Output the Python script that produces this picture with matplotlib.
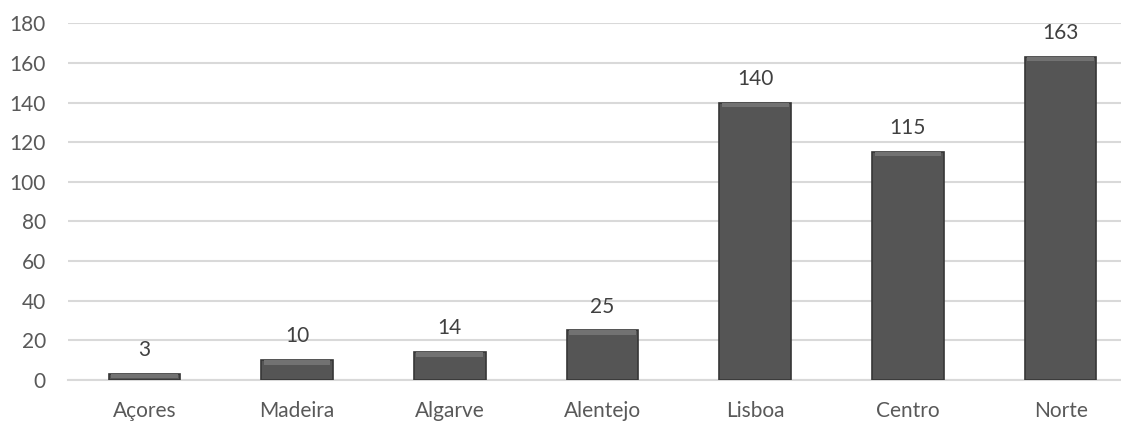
import matplotlib
matplotlib.use("Agg")
import matplotlib.pyplot as plt
import numpy as np

categories = ["Açores", "Madeira", "Algarve", "Alentejo", "Lisboa", "Centro", "Norte"]
values = [3, 10, 14, 25, 140, 115, 163]
yticks = [0, 20, 40, 60, 80, 100, 120, 140, 160, 180]

plt.rcParams['font.family'] = ['Lato', 'DejaVu Sans']

fig = plt.figure(figsize=(11.21, 4.21), dpi=100)
ax = fig.add_axes([0.0607, 0.0974, 0.9535, 0.8473])

x = np.arange(len(categories))
w = 0.47
ax.bar(x, values, width=w, color='#555555', edgecolor='#363636', linewidth=1.2, zorder=3)
# bevel: lighter top band
bevel = 2.2
tops = [max(v - bevel, 0) for v in values]
ax.bar(x, [v - t for v, t in zip(values, tops)], bottom=tops, width=w * 0.93,
       color='#727272', linewidth=0, zorder=4)

for xi, v in zip(x, values):
    ax.annotate(str(v), (xi, v), xytext=(0, 10), textcoords='offset points',
                ha='center', va='bottom', fontsize=15, color='#404040')

ax.set_xlim(-0.5, len(categories) - 0.5)
ax.set_ylim(0, 180)
ax.set_yticks(yticks)
ax.set_xticks(x)
ax.set_xticklabels(categories)
ax.grid(axis='y', color='#d9d9d9', linewidth=1.5, zorder=0)
ax.set_axisbelow(True)
for s in ['top', 'right', 'left']:
    ax.spines[s].set_visible(False)
ax.spines['bottom'].set_color('#d9d9d9')
ax.spines['bottom'].set_linewidth(1.5)
ax.tick_params(axis='both', length=0, labelsize=15, labelcolor='#595959')
ax.tick_params(axis='y', pad=16)
ax.tick_params(axis='x', pad=15)

fig.savefig("out.png", dpi=100)
